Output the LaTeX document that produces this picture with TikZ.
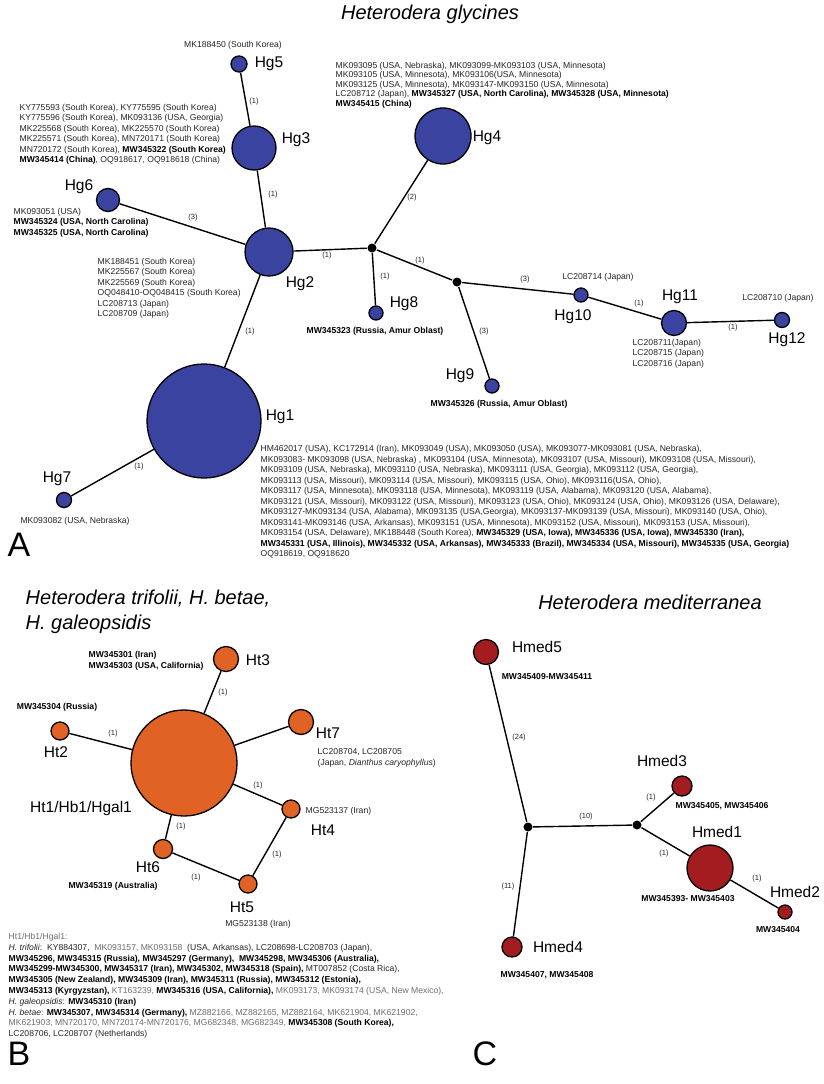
\documentclass[tikz,border=0pt]{standalone}
\usepackage{fontspec}
\setmainfont{Liberation Sans}
\definecolor{hgblue}{HTML}{3A44A0}
\definecolor{htorange}{HTML}{E06225}
\definecolor{hmedred}{HTML}{A31D20}
\definecolor{acctext}{HTML}{262626}
\definecolor{accgray}{HTML}{6E6E6E}

\begin{document}
\begin{tikzpicture}[x=1pt, y=-1pt, line width=1.4pt,
	hap/.style={circle, draw=black, line width=1.3pt, inner sep=0pt, minimum size=#1},
	medvec/.style={circle, fill=black, inner sep=0pt, minimum size=9},
	hname/.style={inner sep=0pt, font=\fontsize{15.5}{18}\selectfont},
	cnt/.style={inner sep=0pt, font=\fontsize{7.5}{9}\selectfont, text=acctext},
	acc/.style={inner sep=0pt, align=left, text=acctext, font=\fontsize{8.6}{10.4}\selectfont},
	accb/.style={acc, font=\fontsize{8.6}{10.4}\selectfont\bfseries, text=black},
	ttl/.style={inner sep=0pt, align=left, font=\fontsize{20}{25}\selectfont\itshape},
	panel/.style={inner sep=0pt, font=\fontsize{34}{40}\selectfont}]
	\useasboundingbox [fill=white] (0,0) rectangle (824,1084);

	% panel A: Heterodera glycines
	\node [ttl] (tA) at (430,14) {Heterodera glycines};
	\node [hap=114, fill=hgblue] (Hg1) at (204,421) {};
	\node [hap=48, fill=hgblue] (Hg2) at (269,252) {};
	\node [hap=44, fill=hgblue] (Hg3) at (254,148) {};
	\node [hap=56, fill=hgblue] (Hg4) at (443,136) {};
	\node [hap=16, fill=hgblue] (Hg5) at (239,64) {};
	\node [hap=23, fill=hgblue] (Hg6) at (108,200) {};
	\node [hap=15, fill=hgblue] (Hg7) at (64,500) {};
	\node [hap=14, fill=hgblue] (Hg8) at (376,313) {};
	\node [hap=14, fill=hgblue] (Hg9) at (492,386) {};
	\node [hap=14, fill=hgblue] (Hg10) at (581,295) {};
	\node [hap=25, fill=hgblue] (Hg11) at (674,323) {};
	\node [hap=15, fill=hgblue] (Hg12) at (782,320) {};
	\node [medvec] (mvA) at (372,248) {};
	\node [medvec] (mvB) at (457,282) {};

	\foreach \a/\b in {Hg5/Hg3, Hg3/Hg2, Hg6/Hg2, Hg2/mvA, Hg2/Hg1, Hg1/Hg7, mvA/Hg4,
		mvA/Hg8, mvA/mvB, mvB/Hg10, mvB/Hg9, Hg10/Hg11, Hg11/Hg12}
	{
		\draw (\a) -- (\b);
	}
	\foreach \x/\y/\n [count=\i] in {254/102/1, 273/195/1, 193/218/3, 327/256/1, 250/332/1,
		139/467/1, 412/198/2, 385/277/1, 420/261/1, 525/280/3, 484/332/3, 639/304/1, 733/328/1}
	{
		\node [cnt] (cA\i) at (\x,\y) {(\n)};
	}

	\node [hname] (nHg1) at (280,417) {Hg1};
	\node [hname] (nHg2) at (300,284) {Hg2};
	\node [hname] (nHg3) at (296,140) {Hg3};
	\node [hname] (nHg4) at (487,138) {Hg4};
	\node [hname] (nHg5) at (269,64) {Hg5};
	\node [hname] (nHg6) at (79,187) {Hg6};
	\node [hname] (nHg7) at (57,479) {Hg7};
	\node [hname] (nHg8) at (404,304) {Hg8};
	\node [hname] (nHg9) at (460,376) {Hg9};
	\node [hname] (nHg10) at (573,317) {Hg10};
	\node [hname] (nHg11) at (680,297) {Hg11};
	\node [hname] (nHg12) at (787,340) {Hg12};

	\node [acc] (aHg5) at (233,45) {MK188450 (South Korea)};
	\node [acc, anchor=north west] (aHg3) at (19,103.6) {KY775593 (South Korea), KY775595 (South Korea)\\
		KY775596 (South Korea), MK093136 (USA, Georgia)\\
		MK225568 (South Korea), MK225570 (South Korea)\\
		MK225571 (South Korea), MN720171 (South Korea)\\
		MN720172 (South Korea), \textbf{\color{black}MW345322 (South Korea)}\\
		\textbf{\color{black}MW345414 (China)}, OQ918617, OQ918618 (China)};
	\node [acc, anchor=north west, font=\fontsize{8.6}{9.4}\selectfont] (aHg4) at (335,61.6) {MK093095 (USA, Nebraska), MK093099-MK093103 (USA, Minnesota)\\
		MK093105 (USA, Minnesota), MK093106(USA, Minnesota)\\
		MK093125 (USA, Minnesota), MK093147-MK093150 (USA, Minnesota)\\
		LC208712 (Japan), \textbf{\color{black}MW345327 (USA, North Carolina), MW345328 (USA, Minnesota)}\\
		\textbf{\color{black}MW345415 (China)}};
	\node [acc, anchor=north west] (aHg6) at (13,207.6) {MK093051 (USA)\\
		\textbf{\color{black}MW345324 (USA, North Carolina)}\\
		\textbf{\color{black}MW345325 (USA, North Carolina)}};
	\node [acc, anchor=north west] (aHg2) at (97,257.6) {MK188451 (South Korea)\\
		MK225567 (South Korea)\\
		MK225569 (South Korea)\\
		OQ048410-OQ048415 (South Korea)\\
		LC208713 (Japan)\\
		LC208709 (Japan)};
	\node [accb] (aHg8) at (375,331) {MW345323 (Russia, Amur Oblast)};
	\node [accb, anchor=west] (aHg9) at (430,404) {MW345326 (Russia, Amur Oblast)};
	\node [acc] (aHg10) at (598,277) {LC208714 (Japan)};
	\node [acc, anchor=north west] (aHg11) at (632,338.6) {LC208711(Japan)\\
		LC208715 (Japan)\\
		LC208716 (Japan)};
	\node [acc] (aHg12) at (778,298) {LC208710 (Japan)};
	\node [acc] (aHg7) at (75,521) {MK093082 (USA, Nebraska)};
	\node [acc, anchor=north west, font=\fontsize{8.6}{10.5}\selectfont] (aHg1) at (260,444.6) {HM462017 (USA), KC172914 (Iran), MK093049 (USA), MK093050 (USA), MK093077-MK093081 (USA, Nebraska),\\
		MK093083- MK093098 (USA, Nebraska) , MK093104 (USA, Minnesota), MK093107 (USA, Missouri), MK093108 (USA, Missouri),\\
		MK093109 (USA, Nebraska), MK093110 (USA, Nebraska), MK093111 (USA, Georgia), MK093112 (USA, Georgia),\\
		MK093113 (USA, Missouri), MK093114 (USA, Missouri), MK093115 (USA, Ohio), MK093116(USA, Ohio),\\
		MK093117 (USA, Minnesota), MK093118 (USA, Minnesota), MK093119 (USA, Alabama), MK093120 (USA, Alabama),\\
		MK093121 (USA, Missouri), MK093122 (USA, Missouri), MK093123 (USA, Ohio), MK093124 (USA, Ohio), MK093126 (USA, Delaware),\\
		MK093127-MK093134 (USA, Alabama), MK093135 (USA,Georgia), MK093137-MK093139 (USA, Missouri), MK093140 (USA, Ohio),\\
		MK093141-MK093146 (USA, Arkansas), MK093151 (USA, Minnesota), MK093152 (USA, Missouri), MK093153 (USA, Missouri),\\
		MK093154 (USA, Delaware), MK188448 (South Korea), \textbf{\color{black}MW345329 (USA, Iowa), MW345336 (USA, Iowa), MW345330 (Iran),}\\
		\textbf{\color{black}MW345331 (USA, Illinois), MW345332 (USA, Arkansas), MW345333 (Brazil), MW345334 (USA, Missouri), MW345335 (USA, Georgia)}\\
		OQ918619, OQ918620};
	\node [panel] (pA) at (19,545) {A};

	% panel B: H. trifolii, H. betae, H. galeopsidis
	\node [ttl, anchor=north west] (tB) at (25,589.6) {Heterodera trifolii, H. betae,\\ H. galeopsidis};
	\node [hap=106, fill=htorange] (Ht1) at (184,763) {};
	\node [hap=18, fill=htorange] (Ht2) at (60,731) {};
	\node [hap=25, fill=htorange] (Ht3) at (226,659) {};
	\node [hap=18, fill=htorange] (Ht4) at (291,809) {};
	\node [hap=18, fill=htorange] (Ht5) at (248,884) {};
	\node [hap=19, fill=htorange] (Ht6) at (163,849) {};
	\node [hap=25, fill=htorange] (Ht7) at (301,722) {};

	\foreach \a/\b in {Ht1/Ht3, Ht2/Ht1, Ht1/Ht7, Ht1/Ht4, Ht1/Ht6, Ht6/Ht5, Ht4/Ht5}
	{
		\draw (\a) -- (\b);
	}
	\foreach \x/\y [count=\i] in {223/693, 113/734, 258/786, 181/827, 196/878, 277/855}
	{
		\node [cnt] (cB\i) at (\x,\y) {(1)};
	}

	\node [hname] (nHt1) at (81,808) {Ht1/Hb1/Hgal1};
	\node [hname] (nHt2) at (56,752) {Ht2};
	\node [hname] (nHt3) at (258,660) {Ht3};
	\node [hname] (nHt4) at (323,830) {Ht4};
	\node [hname] (nHt5) at (242,907) {Ht5};
	\node [hname] (nHt6) at (148,867) {Ht6};
	\node [hname] (nHt7) at (328,733) {Ht7};

	\node [accb, anchor=north west, font=\fontsize{8.6}{11}\selectfont\bfseries] (aHt3) at (88,650.6) {MW345301 (Iran)\\ MW345303 (USA, California)};
	\node [accb] (aHt2) at (57,707) {MW345304 (Russia)};
	\node [acc, anchor=north west, font=\fontsize{8.6}{11}\selectfont] (aHt7) at (317,747.6) {LC208704, LC208705\\ (Japan, \textit{Dianthus caryophyllus})};
	\node [acc, anchor=west] (aHt4) at (305,811) {MG523137 (Iran)};
	\node [accb] (aHt6) at (113,886) {MW345319 (Australia)};
	\node [acc] (aHt5) at (258,924) {MG523138 (Iran)};
	\node [acc, anchor=north west, font=\fontsize{8.6}{10.8}\selectfont] (aHt1) at (8,932.6) {\color{accgray}Ht1/Hb1/Hgal1:\\
		\textit{H. trifolii}:\ \ KY884307,\ \ {\color{accgray}MK093157, MK093158}\ \ (USA, Arkansas), LC208698-LC208703 (Japan),\\
		\textbf{\color{black}MW345296, MW345315 (Russia), MW345297 (Germany),\ \ MW345298, MW345306 (Australia),}\\
		\textbf{\color{black}MW345299-MW345300, MW345317 (Iran), MW345302, MW345318 (Spain),} MT007852 (Costa Rica),\\
		\textbf{\color{black}MW345305 (New Zealand), MW345309 (Iran), MW345311 (Russia), MW345312 (Estonia),}\\
		\textbf{\color{black}MW345313 (Kyrgyzstan),} {\color{accgray}KT163239,} \textbf{\color{black}MW345316 (USA, California),} {\color{accgray}MK093173, MK093174 (USA, New Mexico),}\\
		\textit{H. galeopsidis}: \textbf{\color{black}MW345310 (Iran)}\\
		\textit{H. betae}: \textbf{\color{black}MW345307, MW345314 (Germany),} {\color{accgray}MZ882166, MZ882165, MZ882164, MK621904, MK621902,}\\
		{\color{accgray}MK621903, MN720170, MN720174-MN720176, MG682348, MG682349,} \textbf{\color{black}MW345308 (South Korea),}\\
		LC208706, LC208707 (Netherlands)};
	\node [panel] (pB) at (19,1054) {B};

	% panel C: Heterodera mediterranea
	\node [ttl] (tC) at (650,602) {Heterodera mediterranea};
	\node [hap=46, fill=hmedred] (Hmed1) at (710,868) {};
	\node [hap=14, fill=hmedred] (Hmed2) at (785,912) {};
	\node [hap=20, fill=hmedred] (Hmed3) at (682,786) {};
	\node [hap=20, fill=hmedred] (Hmed4) at (512,947) {};
	\node [hap=25, fill=hmedred] (Hmed5) at (486,652) {};
	\node [medvec] (mvC) at (528,827) {};
	\node [medvec] (mvD) at (637,825) {};

	\foreach \a/\b in {Hmed5/mvC, mvC/mvD, mvC/Hmed4, mvD/Hmed3, mvD/Hmed1, Hmed1/Hmed2}
	{
		\draw (\a) -- (\b);
	}
	\foreach \x/\y/\n [count=\i] in {519/738/24, 586/817/10, 651/798/1, 664/854/1, 757/879/1, 508/887/11}
	{
		\node [cnt] (cC\i) at (\x,\y) {(\n)};
	}

	\node [hname] (nHmed1) at (717,832) {Hmed1};
	\node [hname] (nHmed2) at (795,892) {Hmed2};
	\node [hname] (nHmed3) at (662,761) {Hmed3};
	\node [hname] (nHmed4) at (558,947) {Hmed4};
	\node [hname] (nHmed5) at (537,647) {Hmed5};

	\node [accb] (aHmed5) at (547,677) {MW345409-MW345411};
	\node [accb] (aHmed3) at (722,806) {MW345405, MW345406};
	\node [accb] (aHmed1) at (688,899) {MW345393- MW345403};
	\node [accb] (aHmed2) at (778,930) {MW345404};
	\node [accb] (aHmed4) at (547,975) {MW345407, MW345408};
	\node [panel] (pC) at (485,1054) {C};

\end{tikzpicture}
\end{document}
